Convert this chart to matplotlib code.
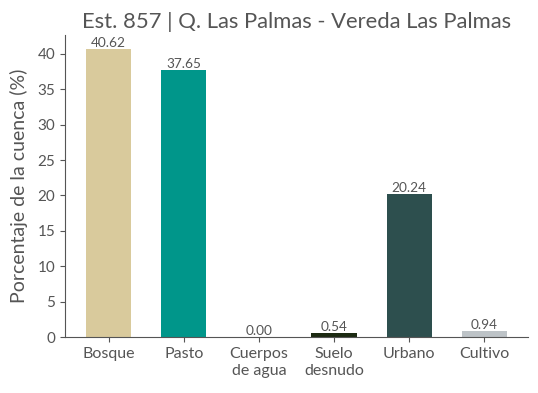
import matplotlib.pyplot as plt

categorias = ["Bosque", "Pasto", "Cuerpos\nde agua", "Suelo\ndesnudo", "Urbano", "Cultivo"]
porcentajes = [40.62, 37.65, 0.00, 0.54, 20.24, 0.94]
colores = ["#D9CA9C", "#00968A", "#4A7FA8", "#1C2A12", "#2D4F4E", "#BDC3C7"]

plt.rcParams['font.family'] = ['Lato', 'DejaVu Sans']
gris = "#555555"

fig = plt.figure(figsize=(5.38, 3.93), dpi=100)
ax = fig.add_axes([0.121, 0.142, 0.86, 0.769])

x = range(len(categorias))
barras = ax.bar(x, porcentajes, width=0.6, color=colores)
for b, v in zip(barras, porcentajes):
    ax.text(b.get_x() + b.get_width() / 2, v, "%.2f" % v, ha="center", va="bottom",
            fontsize=9.8, color=gris)

ax.set_xticks(list(x))
ax.set_xticklabels(categorias, fontsize=11.5, color=gris, linespacing=1.25)
ax.tick_params(axis="y", labelsize=11, labelcolor=gris, color=gris)
ax.tick_params(axis="x", color=gris)
ax.set_yticks(range(0, 45, 5))
ax.set_ylabel("Porcentaje de la cuenca (%)", fontsize=14, color=gris, labelpad=7)
ax.set_title("Est. 857 | Q. Las Palmas - Vereda Las Palmas", fontsize=15.8, color=gris, pad=5)

ax.spines["top"].set_visible(False)
ax.spines["right"].set_visible(False)
ax.spines["left"].set_color(gris)
ax.spines["bottom"].set_color(gris)

plt.savefig("out.png", dpi=100)
